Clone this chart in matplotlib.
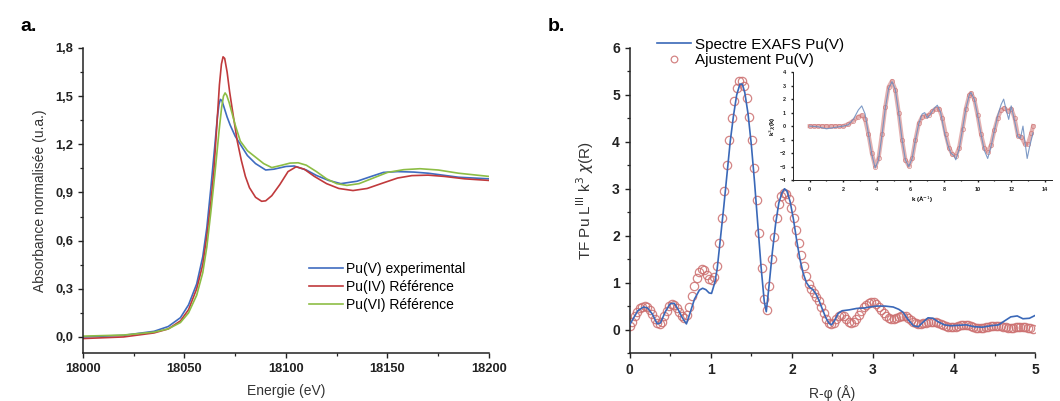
import numpy as np
import matplotlib
matplotlib.use("Agg")
import matplotlib.pyplot as plt
from matplotlib.ticker import MultipleLocator, FuncFormatter

plt.rcParams['font.family'] = ['Liberation Sans', 'DejaVu Sans']

# ---- panel a : XANES ----
e_v = [18000, 18020, 18035, 18042, 18048, 18052, 18056, 18059, 18061, 18063, 18065,
       18066.2, 18067, 18067.7, 18068.5, 18069.5, 18071, 18072.5, 18075, 18077.5, 18081,
       18085, 18090, 18094, 18100, 18104, 18110, 18115, 18121, 18127, 18135, 18142,
       18148, 18155, 18163, 18170, 18176, 18185, 18200]
a_v = [0.0, 0.01, 0.035, 0.065, 0.12, 0.2, 0.33, 0.5, 0.68, 0.93, 1.2,
       1.37, 1.45, 1.48, 1.47, 1.43, 1.37, 1.32, 1.25, 1.2, 1.13,
       1.08, 1.04, 1.045, 1.062, 1.065, 1.04, 1.006, 0.975, 0.955, 0.97, 1.0,
       1.025, 1.03, 1.027, 1.02, 1.01, 0.995, 0.985]

e_iv = [18000, 18020, 18035, 18042, 18048, 18052, 18056, 18059, 18061, 18063, 18064.5,
        18066, 18067.2, 18068.2, 18069, 18069.8, 18071, 18072.2, 18074, 18076, 18078,
        18080, 18082, 18085, 18088, 18090, 18093, 18097, 18101, 18105, 18109, 18114,
        18120, 18126, 18133, 18140, 18148, 18155, 18162, 18170, 18178, 18188, 18200]
a_iv = [-0.01, 0.0, 0.025, 0.05, 0.1, 0.17, 0.3, 0.45, 0.63, 0.84, 1.04,
        1.33, 1.57, 1.7, 1.745, 1.735, 1.65, 1.53, 1.38, 1.22, 1.1,
        1.0, 0.93, 0.87, 0.845, 0.848, 0.88, 0.95, 1.03, 1.06, 1.045, 1.0,
        0.955, 0.925, 0.912, 0.925, 0.96, 0.99, 1.005, 1.008, 1.0, 0.985, 0.975]

e_vi = [18000, 18020, 18035, 18042, 18048, 18052, 18056, 18059, 18061, 18063, 18065,
        18067, 18068.3, 18069.2, 18070, 18070.8, 18072, 18073.5, 18075, 18077.5, 18081,
        18085, 18089, 18093, 18098, 18102, 18106, 18110, 18115, 18120, 18125, 18130,
        18136, 18143, 18150, 18158, 18166, 18175, 18185, 18200]
a_vi = [0.005, 0.012, 0.03, 0.05, 0.09, 0.15, 0.26, 0.4, 0.56, 0.78, 1.02,
        1.28, 1.43, 1.5, 1.52, 1.505, 1.46, 1.39, 1.32, 1.22, 1.16,
        1.12, 1.08, 1.055, 1.07, 1.083, 1.085, 1.07, 1.03, 0.985, 0.955, 0.944,
        0.955, 0.99, 1.025, 1.042, 1.048, 1.04, 1.02, 1.0]

# ---- panel b : TF EXAFS ----
r_exp = [0.0, 0.05, 0.1, 0.17, 0.22, 0.28, 0.34, 0.38, 0.44, 0.5, 0.55, 0.6, 0.65, 0.7,
         0.75, 0.8, 0.86, 0.9, 0.94, 0.98, 1.01, 1.05, 1.08, 1.12, 1.16, 1.2, 1.24, 1.28,
         1.32, 1.36, 1.39, 1.42, 1.46, 1.5, 1.54, 1.58, 1.62, 1.66, 1.685, 1.72, 1.76,
         1.8, 1.84, 1.88, 1.91, 1.94, 1.98, 2.02, 2.06, 2.1, 2.14, 2.18, 2.22, 2.26, 2.3,
         2.34, 2.38, 2.42, 2.46, 2.49, 2.53, 2.57, 2.62, 2.71, 2.8, 2.9, 2.96, 3.05, 3.15,
         3.25, 3.32, 3.37, 3.43, 3.5, 3.56, 3.62, 3.68, 3.74, 3.8, 3.88, 3.96, 4.05, 4.15,
         4.25, 4.35, 4.45, 4.55, 4.62, 4.7, 4.78, 4.85, 4.93, 5.0]
tf_exp = [0.1, 0.25, 0.4, 0.48, 0.46, 0.33, 0.12, 0.14, 0.38, 0.55, 0.56, 0.42, 0.25, 0.12,
          0.38, 0.65, 0.84, 0.88, 0.85, 0.78, 0.77, 1.0, 1.3, 1.95, 2.6, 3.3, 4.0, 4.55,
          5.0, 5.23, 5.23, 5.05, 4.6, 3.95, 3.15, 2.25, 1.35, 0.6, 0.38, 0.95, 1.65,
          2.25, 2.7, 2.92, 3.0, 2.95, 2.72, 2.35, 1.9, 1.5, 1.2, 1.0, 0.9, 0.85, 0.75,
          0.6, 0.42, 0.25, 0.13, 0.1, 0.2, 0.34, 0.4, 0.42, 0.45, 0.46, 0.48, 0.5, 0.5,
          0.48, 0.43, 0.37, 0.22, 0.08, 0.06, 0.16, 0.25, 0.24, 0.17, 0.1, 0.08, 0.09, 0.1,
          0.06, 0.05, 0.08, 0.1, 0.18, 0.27, 0.29, 0.23, 0.24, 0.3]

# fit on the R grid (step 0.0307 A)
r_step = 0.0307
tf_fit = [0.07, 0.17, 0.28, 0.38, 0.45, 0.49, 0.5, 0.48, 0.42, 0.33,
          0.22, 0.14, 0.12, 0.17, 0.28, 0.4, 0.5, 0.55, 0.53, 0.46,
          0.37, 0.28, 0.24, 0.3, 0.48, 0.72, 0.93, 1.1, 1.22, 1.28,
          1.26, 1.17, 1.07, 1.05, 1.12, 1.35, 1.85, 2.38, 2.95, 3.5,
          4.03, 4.5, 4.88, 5.15, 5.3, 5.3, 5.18, 4.93, 4.53, 4.03,
          3.45, 2.77, 2.05, 1.32, 0.65, 0.42, 0.93, 1.5, 1.98, 2.38,
          2.67, 2.85, 2.92, 2.88, 2.78, 2.6, 2.38, 2.12, 1.85, 1.58,
          1.35, 1.15, 0.98, 0.86, 0.78, 0.7, 0.6, 0.48, 0.35, 0.22,
          0.15, 0.12, 0.15, 0.22, 0.28, 0.3, 0.28, 0.22, 0.17, 0.15,
          0.17, 0.22, 0.3, 0.4, 0.47, 0.53, 0.57, 0.58, 0.58, 0.55,
          0.49, 0.42, 0.35, 0.29, 0.25, 0.23, 0.23, 0.25, 0.27, 0.29,
          0.29, 0.28, 0.25, 0.21, 0.17, 0.14, 0.12, 0.12, 0.13, 0.15,
          0.16, 0.17, 0.17, 0.16, 0.14, 0.12, 0.1, 0.08, 0.06, 0.05,
          0.05, 0.06, 0.08, 0.09, 0.1, 0.1, 0.09, 0.07, 0.05, 0.04,
          0.03, 0.03, 0.04, 0.05, 0.06, 0.07, 0.08, 0.08, 0.08, 0.07,
          0.06, 0.05, 0.04, 0.04, 0.04, 0.05, 0.05, 0.06, 0.06, 0.05,
          0.04, 0.03, 0.02]
r_fit = np.arange(len(tf_fit)) * r_step

# ---- inset : k-space ----
k_exp = [0, 0.5, 1, 1.5, 2, 2.3, 2.6, 2.9, 3.1, 3.3, 3.5, 3.7, 3.9, 4.1, 4.3, 4.5, 4.7,
         4.9, 5.1, 5.3, 5.5, 5.7, 5.9, 6.1, 6.3, 6.5, 6.7, 6.85, 7.0, 7.2, 7.4, 7.6, 7.8,
         8.0, 8.2, 8.4, 8.6, 8.7, 8.9, 9.1, 9.3, 9.5, 9.6, 9.8, 10.0, 10.2, 10.4, 10.6,
         10.8, 11.0, 11.2, 11.4, 11.55, 11.7, 11.85, 12.0, 12.2, 12.4, 12.55, 12.7, 12.8,
         12.95, 13.1, 13.3]
chi_exp = [0, -0.05, -0.2, -0.1, 0, 0.1, 0.5, 1.2, 1.5, 0.9, -0.6, -2.1, -3.1, -2.5, -0.7,
           1.3, 2.8, 3.3, 2.7, 1.0, -1.0, -2.5, -3.0, -2.4, -1.0, 0.2, 0.9, 1.0, 0.6, 0.9,
           1.3, 1.55, 1.0, -0.3, -1.3, -2.0, -2.2, -2.5, -1.7, -0.2, 1.3, 2.3, 2.5, 2.0,
           0.8, -0.6, -1.8, -2.4, -1.5, -0.3, 0.8, 1.6, 2.0, 1.2, 0.5, 1.5, 0.4, -0.8,
           -0.9, 0.0, -1.0, -2.4, -1.5, -0.5]
k_fit = [0, 0.25, 0.5, 0.75, 1, 1.25, 1.5, 1.75, 2, 2.3, 2.6, 2.9, 3.1, 3.3, 3.5, 3.7,
         3.9, 4.1, 4.3, 4.5, 4.7, 4.9, 5.1, 5.3, 5.5, 5.7, 5.9, 6.1, 6.3, 6.5, 6.7, 6.9,
         7.1, 7.3, 7.5, 7.7, 7.9, 8.1, 8.3, 8.5, 8.7, 8.9, 9.1, 9.3, 9.5, 9.6, 9.8, 10.0,
         10.2, 10.4, 10.6, 10.8, 11.0, 11.2, 11.4, 11.6, 11.8, 12.0, 12.2, 12.4, 12.6,
         12.8, 13.0, 13.2, 13.3]
chi_fit = [0, 0, 0, 0, 0, 0, 0, 0, 0, 0.15, 0.4, 0.7, 0.8, 0.5, -0.6, -2.0,
           -3.0, -2.4, -0.6, 1.4, 2.9, 3.35, 2.7, 1.0, -1.0, -2.5, -2.95, -2.4, -1.0, 0.2,
           0.7, 0.75, 0.85, 1.1, 1.3, 1.3, 0.6, -0.6, -1.6, -2.1, -2.2, -1.6, -0.2, 1.3,
           2.3, 2.45, 2.0, 0.8, -0.6, -1.6, -1.9, -1.4, -0.3, 0.6, 1.2, 1.35, 1.1, 1.3,
           0.6, -0.7, -0.8, -1.3, -1.3, -0.5, 0.0]

c_blue = '#3f6cc0'
c_red = '#c03a3c'
c_green = '#8dbd45'
c_fit = '#cc6f6f'
c_exp = '#3a68b8'

fig = plt.figure(figsize=(10.6, 4.01), dpi=100)
ax1 = fig.add_axes([0.0783, 0.1197, 0.383, 0.7606])
ax2 = fig.add_axes([0.594, 0.1197, 0.3825, 0.7606])
ax3 = fig.add_axes([0.748, 0.551, 0.244, 0.269])


def style(ax, fs, major=3.5, minor=2.0):
    for s in ['top', 'right']:
        ax.spines[s].set_visible(False)
    for s in ['left', 'bottom']:
        ax.spines[s].set_linewidth(1.1)
        ax.spines[s].set_color('#222222')
    ax.tick_params(which='major', direction='out', length=major, width=1.0,
                   labelsize=fs, colors='#222222')
    ax.tick_params(which='minor', direction='out', length=minor, width=0.9,
                   colors='#222222')
    for lab in ax.get_xticklabels() + ax.get_yticklabels():
        lab.set_fontweight('bold')


# panel a
ax1.plot(e_v, a_v, color=c_blue, lw=1.2, label='Pu(V) experimental')
ax1.plot(e_iv, a_iv, color=c_red, lw=1.2, label='Pu(IV) Référence')
ax1.plot(e_vi, a_vi, color=c_green, lw=1.2, label='Pu(VI) Référence')
ax1.set_xlim(18000, 18200)
ax1.set_ylim(-0.1, 1.8)
ax1.xaxis.set_major_locator(MultipleLocator(50))
ax1.xaxis.set_minor_locator(MultipleLocator(25))
ax1.yaxis.set_major_locator(MultipleLocator(0.3))
ax1.yaxis.set_minor_locator(MultipleLocator(0.15))
ax1.yaxis.set_major_formatter(FuncFormatter(lambda v, p: f'{v:.1f}'.replace('.', ',')))
style(ax1, 9.3)
ax1.set_xlabel('Energie (eV)', fontsize=10, color='#333333', labelpad=7)
ax1.set_ylabel('Absorbance normalisée (u.a.)', fontsize=10, color='#333333', labelpad=6)
ax1.legend(loc='upper left', bbox_to_anchor=(0.54, 0.32), frameon=False, fontsize=10,
           handlelength=2.4, handletextpad=0.25, labelspacing=0.28, borderpad=0)

# panel b
ax2.plot(r_exp, tf_exp, color=c_exp, lw=1.2, label='Spectre EXAFS Pu(V)', zorder=3)
ax2.plot(r_fit, tf_fit, ls='none', marker='o', ms=6.0, mfc='none', mec=c_fit, mew=0.9,
         alpha=0.85, label='Ajustement Pu(V)', zorder=2)
ax2.set_xlim(0, 5)
ax2.set_ylim(-0.5, 6)
ax2.xaxis.set_major_locator(MultipleLocator(1))
ax2.xaxis.set_minor_locator(MultipleLocator(0.5))
ax2.yaxis.set_major_locator(MultipleLocator(1))
ax2.yaxis.set_minor_locator(MultipleLocator(0.5))
style(ax2, 10)
ax2.set_xlabel('R-φ (Å)', fontsize=10, color='#333333', labelpad=6)
ax2.set_ylabel(r'TF Pu L$^{\mathrm{III}}$ k$^{3}$ $\chi$(R)', fontsize=11, color='#333333',
               labelpad=12)
leg = ax2.legend(loc='upper left', bbox_to_anchor=(0.613, 0.925),
                 bbox_transform=fig.transFigure, frameon=False, fontsize=10.9,
                 handlelength=2.2, handletextpad=0.3, labelspacing=0.1, borderpad=0,
                 markerscale=0.8)

# inset
ax3.patch.set_alpha(0)
ax3.plot(k_fit, chi_fit, color=c_fit, lw=3.0, alpha=0.55, zorder=2)
ax3.plot(k_fit, chi_fit, ls='none', marker='o', ms=3, mfc='none', mec=c_fit, mew=0.6,
         alpha=0.7, zorder=2)
ax3.plot(k_exp, chi_exp, color='#6f8fc0', lw=0.8, alpha=0.9, zorder=3)
ax3.set_xlim(-1, 14.4)
ax3.set_ylim(-4, 4)
ax3.xaxis.set_major_locator(MultipleLocator(2))
ax3.xaxis.set_minor_locator(MultipleLocator(1))
ax3.yaxis.set_major_locator(MultipleLocator(1))
style(ax3, 4, major=1.5, minor=1.0)
for s in ['left', 'bottom']:
    ax3.spines[s].set_linewidth(0.7)
ax3.set_xlabel(r'k (Å$^{-1}$)', fontsize=4.5, fontweight='bold', labelpad=2)
ax3.set_ylabel(r'k$^{3}$$\chi$(k)', fontsize=4.5, fontweight='bold', labelpad=1)

fig.text(0.019, 0.935, 'a.', fontsize=14, fontweight='bold', ha='left', va='center')
fig.text(0.517, 0.935, 'b.', fontsize=14, fontweight='bold', ha='left', va='center')

fig.savefig('out.png', dpi=100)
